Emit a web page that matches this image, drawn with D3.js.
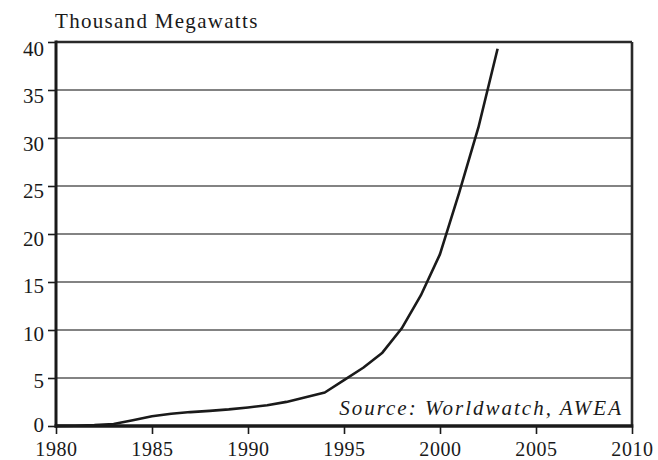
<!DOCTYPE html>
<html>
<head>
<meta charset="utf-8">
<script src="https://cdn.jsdelivr.net/npm/d3@7"></script>
<style>
  body { margin: 0; background: #fff; }
  svg text { font-family: 'Liberation Serif', 'Times New Roman', 'DejaVu Serif', serif !important; fill: #1a1a1a; }
</style>
</head>
<body>
<div id="chart"></div>
<script>
// world wind power capacity, thousand megawatts
var years = [1980, 1981, 1982, 1983, 1984, 1985, 1986, 1987, 1988, 1989, 1990, 1991,
  1992, 1993, 1994, 1995, 1996, 1997, 1998, 1999, 2000, 2001, 2002, 2003];
var capacity = [0.01, 0.03, 0.09, 0.21, 0.6, 1.02, 1.27, 1.45, 1.58, 1.73, 1.93, 2.17,
  2.51, 2.99, 3.49, 4.78, 6.07, 7.64, 10.15, 13.6, 17.9, 24.3, 31.1, 39.3];
var yTicks = [0, 5, 10, 15, 20, 25, 30, 35, 40];
var xTicks = [1980, 1985, 1990, 1995, 2000, 2005, 2010];
var unitLabel = "Thousand Megawatts";
var sourceLabel = "Source: Worldwatch, AWEA";

var width = 658, height = 460;
var margin = { top: 42, right: 26, bottom: 34, left: 56 };
var w = width - margin.left - margin.right;
var h = height - margin.top - margin.bottom;
var serif = "'Liberation Serif', 'Times New Roman', 'DejaVu Serif', serif";

var svg = d3.select("#chart").append("svg")
  .attr("width", width)
  .attr("height", height);

var g = svg.append("g")
  .attr("transform", "translate(" + margin.left + "," + margin.top + ")");

var x = d3.scaleLinear().domain([1980, 2010]).range([0, w]);
var y = d3.scaleLinear().domain([0, 40]).range([h, 0]);

// gridlines
g.selectAll(".grid")
  .data(yTicks.filter(function (d) { return d > 0 && d < 40; }))
  .enter().append("line")
  .attr("x1", 0).attr("x2", w)
  .attr("y1", function (d) { return y(d); })
  .attr("y2", function (d) { return y(d); })
  .attr("stroke", "#5a5a5a")
  .attr("stroke-width", 1.3);

// y axis
var yAxis = g.append("g")
  .call(d3.axisLeft(y).tickValues(yTicks).tickSize(8).tickPadding(4));
yAxis.attr("font-family", null);
yAxis.select(".domain").remove();
yAxis.selectAll(".tick line").attr("stroke", "#1a1a1a").attr("stroke-width", 1.6);
yAxis.selectAll(".tick text")
  .style("font-family", serif)
  .style("font-size", "21px")
  .attr("dy", function (d) { return (d === 0 ? -2 : 2 + d / 10) + "px"; })
  .attr("dominant-baseline", "central");

// x axis
var xAxis = g.append("g")
  .attr("transform", "translate(0," + h + ")")
  .call(d3.axisBottom(x).tickValues(xTicks).tickFormat(d3.format("d")).tickSize(8).tickPadding(8));
xAxis.attr("font-family", null);
xAxis.select(".domain").remove();
xAxis.selectAll(".tick line").attr("stroke", "#1a1a1a").attr("stroke-width", 1.6);
xAxis.selectAll(".tick text")
  .style("font-family", serif)
  .style("font-size", "20px")
  .style("letter-spacing", "0.6px");

// frame
g.append("line").attr("x1", 0).attr("x2", w).attr("y1", 0).attr("y2", 0)
  .attr("stroke", "#2a2a2a").attr("stroke-width", 2.6);
g.append("line").attr("x1", w).attr("x2", w).attr("y1", 0).attr("y2", h)
  .attr("stroke", "#2a2a2a").attr("stroke-width", 2.6);
g.append("line").attr("x1", 0).attr("x2", 0).attr("y1", -1.5).attr("y2", h + 1.5)
  .attr("stroke", "#1a1a1a").attr("stroke-width", 3);
g.append("line").attr("x1", -1.5).attr("x2", w + 1.3).attr("y1", h).attr("y2", h)
  .attr("stroke", "#1a1a1a").attr("stroke-width", 3.6);

// series
var data = years.map(function (yr, i) { return { year: yr, value: capacity[i] }; });
g.append("path")
  .datum(data)
  .attr("fill", "none")
  .attr("stroke", "#1a1a1a")
  .attr("stroke-width", 2.6)
  .attr("stroke-linejoin", "round")
  .attr("d", d3.line()
    .x(function (d) { return x(d.year); })
    .y(function (d) { return y(d.value); })
  );

// labels
svg.append("text")
  .attr("x", 55)
  .attr("y", 28)
  .style("font-family", serif)
  .style("font-size", "21px")
  .style("letter-spacing", "1.3px")
  .text(unitLabel);

g.append("text")
  .attr("x", w - 9)
  .attr("y", h - 11)
  .attr("text-anchor", "end")
  .style("font-family", serif)
  .style("font-size", "21px")
  .style("font-style", "italic")
  .style("letter-spacing", "2px")
  .text(sourceLabel);
</script>
</body>
</html>
